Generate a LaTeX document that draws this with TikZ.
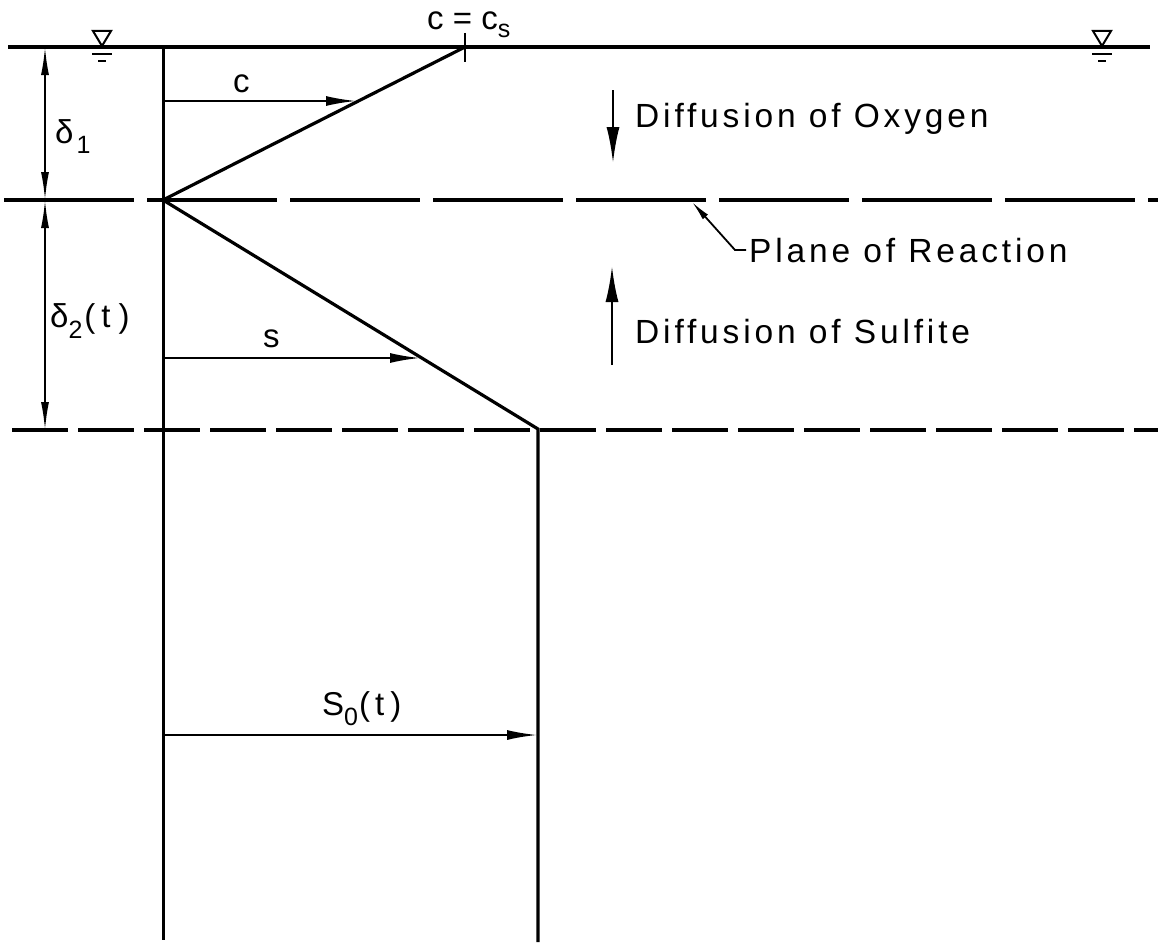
\documentclass[tikz,border=0pt]{standalone}
\usepackage{fontspec}
\setmainfont{Liberation Sans}
\newfontfamily\lbl{Liberation Sans}[LetterSpace=11.5]
\usetikzlibrary{arrows.meta}
\newcommand\sbx[2][-9pt]{\raisebox{#1}{\fontsize{25}{25}\selectfont #2}}
\begin{document}
\begin{tikzpicture}[x=1pt,y=-1pt,
  txt/.style={font=\lbl\fontsize{33.5}{40}\selectfont, inner sep=0pt, anchor=base west},
  plain/.style={font=\fontsize{33}{40}\selectfont, inner sep=0pt, anchor=base west},
  surface/.style={line width=4pt},
  profile/.style={line width=3.2pt, line join=miter},
  axisline/.style={line width=3pt},
  shaft/.style={line width=2pt, -{Latex[length=30pt,width=10pt]}},
  dimarrow/.style={line width=1.8pt, {Latex[length=28pt,width=8pt]}-{Latex[length=28pt,width=8pt]}},
  flux/.style={line width=2.5pt, -{Latex[length=36pt,width=13pt]}},
  leader/.style={line width=1.8pt, {Latex[length=20pt,width=7pt]}-},
  planeline/.style={line width=4pt, dash pattern=on 130pt off 13pt},
  lowerline/.style={line width=4pt, dash pattern=on 56pt off 10pt},
  wsym/.style={line width=2pt}]
\useasboundingbox (0,0) rectangle (1158,950);

% coordinates
\coordinate (sL) at (8,47);
\coordinate (sR) at (1150,47);
\coordinate (V0) at (163,47);
\coordinate (V1) at (163,940);
\coordinate (P0) at (465,47);
\coordinate (P1) at (163,200);
\coordinate (P2) at (538,429);
\coordinate (P3) at (538,942);
\coordinate (T0) at (465,33);
\coordinate (T1) at (465,62);
\coordinate (D0) at (45,47);
\coordinate (D1) at (45,200);
\coordinate (D2) at (45,430);
\coordinate (CA0) at (163,101);
\coordinate (CA1) at (356,101);
\coordinate (SA0) at (163,358);
\coordinate (SA1) at (420,358);
\coordinate (SO0) at (163,735);
\coordinate (SO1) at (537,735);
\coordinate (OX0) at (613,90);
\coordinate (OX1) at (613,163);
\coordinate (SU0) at (612,365);
\coordinate (SU1) at (612,266);
\coordinate (LD0) at (692,202);
\coordinate (LD1) at (735,250);
\coordinate (LD2) at (746,250);
\coordinate (R0) at (4,200);
\coordinate (R1) at (1158,200);
\coordinate (B0) at (12,430);
\coordinate (B1) at (1158,430);

% water surface
\draw[surface] (sL) -- (sR);
% water-level symbols
\draw[wsym] (93,31) -- (111,31) -- (102,46) -- cycle;
\draw[wsym] (92,54) -- (112,54);
\draw[wsym] (98,61) -- (106,61);
\draw[wsym] (1093,31) -- (1111,31) -- (1102,46) -- cycle;
\draw[wsym] (1092,54) -- (1112,54);
\draw[wsym] (1098,61) -- (1106,61);

% dashed planes
\draw[planeline] (R0) -- (R1);
\draw[lowerline] (B0) -- (B1);

% axis and profile
\draw[axisline] (V0) -- (V1);
\draw[profile] (P0) -- (P1) -- (P2) -- (P3);
\draw[line width=1.8pt] (T0) -- (T1);

% dimension lines
\draw[dimarrow] (D0) -- (D1);
\draw[dimarrow] (D1) -- (D2);

% concentration arrows
\draw[shaft] (CA0) -- (CA1);
\draw[shaft] (SA0) -- (SA1);
\draw[shaft] (SO0) -- (SO1);

% diffusion arrows
\draw[flux] (OX0) -- (OX1);
\draw[flux] (SU0) -- (SU1);

% leader for plane of reaction
\draw[leader] (LD0) -- (LD1) -- (LD2);

% labels
\node[plain] (lcs) at (427,30) {c = c\sbx[-8pt]{s}};
\node[plain] (lc) at (233,92) {c};
\node[plain] (ls) at (263,347) {s};
\node[plain] (ld1) at (55,143) {δ\kern3pt\sbx[-10pt]{1}};
\node[plain] (ld2) at (50,327) {δ\sbx[-11pt]{2}\kern2pt(\kern6pt t\kern8pt)};
\node[plain] (lso) at (322,715) {S\sbx[-10pt]{0}\kern1pt(\kern5pt t\kern6pt)};
\node[txt] (lox) at (635,127) {Diffusion of Oxygen};
\node[txt] (lpl) at (749,262) {Plane of Reaction};
\node[txt] (lsu) at (635,343) {Diffusion of Sulfite};
\end{tikzpicture}
\end{document}
